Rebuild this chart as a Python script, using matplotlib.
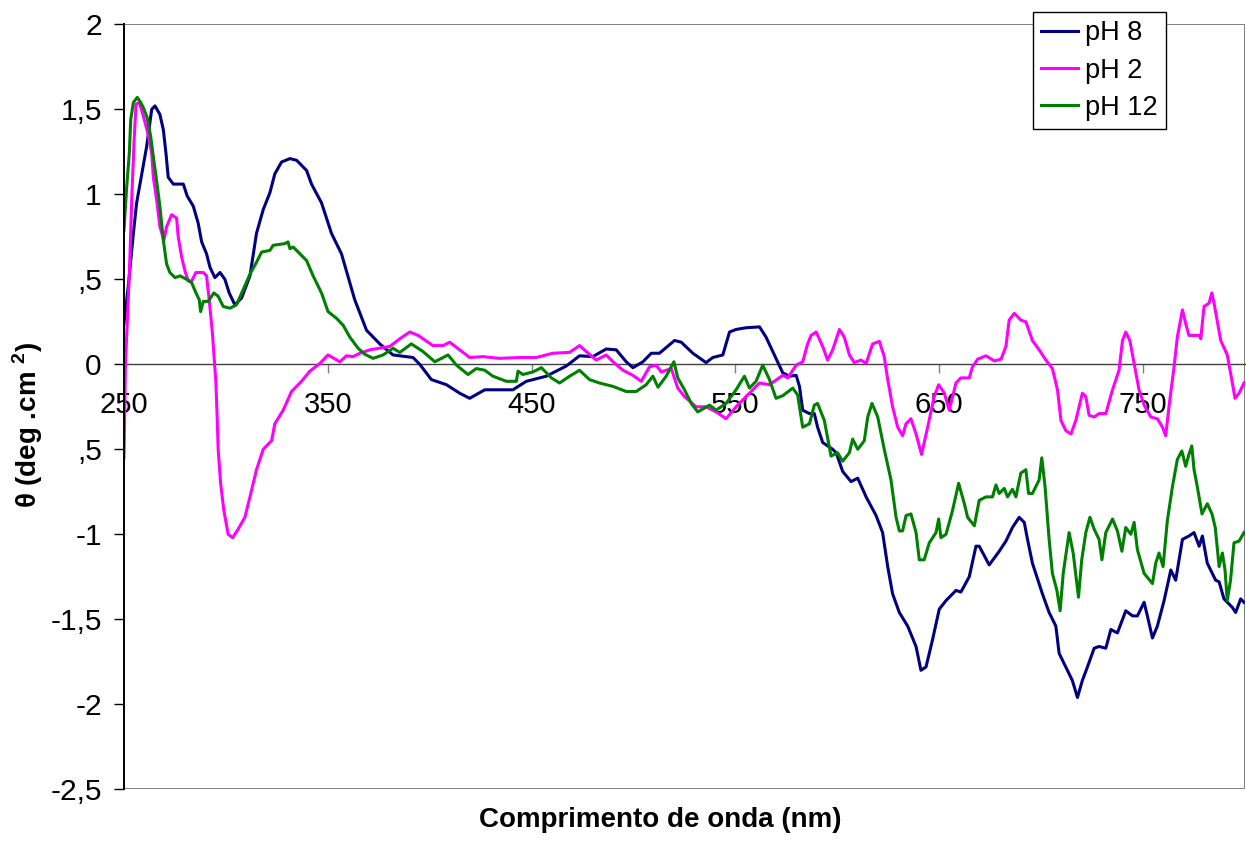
import matplotlib
matplotlib.use("Agg")
import matplotlib.pyplot as plt
from matplotlib.patches import Rectangle

plt.rcParams['font.family'] = ['Liberation Sans', 'DejaVu Sans']
plt.rcParams['mathtext.fontset'] = 'custom'
plt.rcParams['mathtext.rm'] = 'Liberation Sans'
plt.rcParams['mathtext.bf'] = 'Liberation Sans:bold'

# Circular dichroism spectra at three pH values
wl_ph8 = [250.0, 252.1, 254.6, 256.2, 258.7, 261.1, 263.6, 265.2, 267.6, 269.3, 270.6, 271.7,
          274.2, 279.1, 281.0, 284.0, 286.4, 288.1, 290.5, 292.2, 294.6, 297.1, 299.5, 301.6,
          304.4, 307.7, 311.8, 315.0, 318.3, 321.6, 324.0, 327.3, 331.4, 334.7, 339.6, 342.0,
          346.9, 351.8, 356.7, 363.2, 369.0, 375.5, 382.0, 391.8, 395.1, 400.8, 408.2, 414.7,
          419.6, 427.0, 432.7, 440.8, 447.4, 457.2, 467.0, 473.5, 480.0, 486.6, 491.5, 496.4,
          499.7, 504.6, 508.7, 512.7, 520.1, 523.4, 529.1, 535.6, 538.9, 543.8, 547.1, 550.3,
          555.2, 561.8, 565.0, 569.9, 573.2, 576.5, 579.8, 581.4, 583.0, 586.3, 588.7, 590.3,
          592.8, 597.7, 599.4, 602.6, 606.7, 610.0, 614.1, 619.0, 622.2, 624.7, 627.1, 630.4,
          634.5, 638.6, 641.0, 643.5, 646.7, 650.0, 653.3, 658.2, 660.6, 664.7, 668.0, 669.6,
          674.5, 679.4, 682.7, 685.9, 689.2, 691.7, 693.3, 695.7, 700.6, 703.9, 707.2, 708.8,
          712.9, 715.3, 717.8, 720.2, 722.7, 726.0, 728.4, 731.7, 734.2, 737.4, 741.5, 744.8,
          747.2, 750.5, 752.1, 754.6, 757.0, 760.3, 763.6, 766.0, 769.3, 772.5, 775.0, 777.5,
          779.1, 781.5, 785.6, 787.3, 789.7, 793.8, 795.4, 797.9, 799.5]
theta_ph8 = [0.24, 0.46, 0.77, 0.95, 1.12, 1.28, 1.50, 1.52, 1.47, 1.38, 1.24, 1.10,
             1.06, 1.06, 0.99, 0.93, 0.83, 0.72, 0.65, 0.57, 0.51, 0.54, 0.50, 0.42,
             0.35, 0.39, 0.52, 0.77, 0.91, 1.01, 1.12, 1.19, 1.21, 1.20, 1.14, 1.06,
             0.95, 0.77, 0.65, 0.38, 0.20, 0.12, 0.055, 0.04, 0.0, -0.09, -0.12, -0.17,
             -0.20, -0.15, -0.15, -0.15, -0.10, -0.07, -0.01, 0.05, 0.045, 0.09, 0.085, 0.015,
             -0.02, 0.015, 0.065, 0.065, 0.14, 0.13, 0.065, 0.01, 0.04, 0.055, 0.19, 0.205,
             0.215, 0.22, 0.16, 0.035, -0.05, -0.07, -0.065, -0.13, -0.27, -0.29, -0.29, -0.37,
             -0.46, -0.50, -0.52, -0.63, -0.69, -0.67, -0.78, -0.89, -0.99, -1.19, -1.35, -1.46,
             -1.54, -1.66, -1.80, -1.78, -1.62, -1.44, -1.39, -1.33, -1.34, -1.25, -1.07, -1.07,
             -1.18, -1.10, -1.04, -0.96, -0.90, -0.93, -1.03, -1.17, -1.35, -1.46, -1.54, -1.70,
             -1.80, -1.86, -1.96, -1.86, -1.78, -1.67, -1.66, -1.67, -1.56, -1.58, -1.45, -1.48,
             -1.48, -1.40, -1.48, -1.61, -1.54, -1.39, -1.21, -1.27, -1.03, -1.01, -0.99, -1.07,
             -1.01, -1.17, -1.27, -1.28, -1.38, -1.43, -1.46, -1.38, -1.40]

wl_ph2 = [250.0, 250.7, 251.3, 252.6, 253.8, 254.9, 255.9, 257.5, 259.5, 261.9, 263.6, 264.4,
          266.0, 267.6, 269.6, 270.9, 273.4, 275.8, 276.6, 278.3, 279.9, 281.5, 283.2, 285.3,
          288.9, 290.5, 291.8, 293.4, 295.1, 295.7, 296.2, 297.4, 299.0, 301.1, 303.3, 306.0,
          309.3, 311.8, 315.0, 318.3, 322.4, 324.0, 328.1, 332.2, 337.1, 341.2, 346.1, 350.1,
          355.9, 359.2, 362.4, 365.7, 370.6, 380.4, 385.3, 390.2, 394.3, 401.6, 406.5, 409.8,
          414.7, 419.6, 426.1, 434.3, 444.1, 452.3, 460.4, 468.6, 473.5, 476.8, 481.7, 486.6,
          489.9, 494.8, 499.7, 503.8, 507.8, 511.1, 513.6, 518.5, 521.7, 525.0, 530.7, 535.6,
          540.5, 545.4, 550.3, 555.2, 561.8, 566.7, 573.2, 575.6, 579.8, 583.0, 585.4, 587.1,
          589.6, 592.8, 595.2, 597.7, 601.0, 603.4, 605.9, 608.3, 611.6, 614.1, 617.3, 620.6,
          623.0, 624.7, 627.1, 629.6, 632.0, 633.7, 636.1, 638.6, 641.3, 644.3, 647.5, 649.7,
          652.5, 654.9, 658.2, 660.6, 664.7, 666.3, 668.8, 672.9, 677.0, 680.3, 682.7, 684.3,
          686.8, 690.0, 692.5, 695.7, 699.0, 702.3, 705.5, 708.0, 709.7, 712.1, 714.6, 717.0,
          720.2, 721.9, 723.5, 726.0, 728.4, 731.7, 735.0, 738.2, 739.9, 741.5, 743.5, 745.6,
          748.0, 750.5, 753.8, 757.0, 759.5, 761.1, 762.7, 765.2, 766.8, 769.3, 770.9, 772.5,
          777.5, 778.3, 779.9, 782.4, 783.7, 784.8, 788.1, 791.3, 793.8, 795.1, 797.1, 799.5]
theta_ph2 = [-0.55, 0.0, 0.16, 0.52, 0.97, 1.30, 1.53, 1.54, 1.46, 1.35, 1.24, 1.10,
             0.97, 0.81, 0.73, 0.81, 0.88, 0.86, 0.75, 0.63, 0.55, 0.49, 0.49, 0.54,
             0.54, 0.52, 0.38, 0.18, -0.11, -0.31, -0.50, -0.70, -0.86, -1.00, -1.02, -0.97,
             -0.90, -0.78, -0.62, -0.50, -0.45, -0.35, -0.27, -0.16, -0.10, -0.04, 0.005, 0.055,
             0.015, 0.05, 0.045, 0.065, 0.085, 0.105, 0.15, 0.19, 0.17, 0.11, 0.11, 0.13,
             0.085, 0.04, 0.045, 0.035, 0.04, 0.04, 0.065, 0.07, 0.11, 0.075, 0.025, 0.055,
             0.015, -0.035, -0.065, -0.10, -0.015, -0.005, -0.045, -0.025, -0.14, -0.19, -0.25, -0.25,
             -0.28, -0.32, -0.25, -0.19, -0.11, -0.12, -0.065, -0.08, -0.005, 0.015, 0.12, 0.17,
             0.19, 0.105, 0.025, 0.085, 0.205, 0.16, 0.055, 0.01, 0.025, 0.005, 0.12, 0.135,
             0.045, -0.09, -0.25, -0.37, -0.42, -0.35, -0.32, -0.41, -0.53, -0.37, -0.19, -0.12,
             -0.17, -0.27, -0.11, -0.08, -0.08, -0.015, 0.03, 0.05, 0.02, 0.03, 0.105, 0.26,
             0.30, 0.26, 0.25, 0.14, 0.085, 0.025, -0.025, -0.15, -0.33, -0.39, -0.41, -0.33,
             -0.17, -0.19, -0.30, -0.31, -0.29, -0.29, -0.15, -0.035, 0.14, 0.19, 0.14, 0.005,
             -0.15, -0.24, -0.31, -0.32, -0.37, -0.42, -0.25, -0.015, 0.16, 0.32, 0.24, 0.17,
             0.17, 0.15, 0.34, 0.36, 0.42, 0.36, 0.14, 0.055, -0.11, -0.20, -0.17, -0.11]

wl_ph12 = [250.0, 251.3, 252.6, 253.3, 254.6, 256.5, 258.2, 259.5, 261.4, 263.1, 264.4, 266.0,
           267.6, 269.3, 270.9, 272.5, 275.0, 277.5, 280.7, 283.2, 285.3, 286.9, 287.6, 288.9,
           291.3, 294.1, 296.2, 298.7, 302.0, 305.2, 308.5, 311.8, 315.0, 317.5, 321.6, 323.2,
           328.9, 330.5, 331.4, 333.0, 336.3, 339.6, 342.8, 346.9, 350.1, 354.3, 357.5, 360.8,
           364.9, 368.0, 372.2, 377.1, 382.0, 385.3, 391.0, 396.7, 402.5, 409.0, 413.1, 418.8,
           422.9, 427.0, 431.0, 437.6, 442.5, 443.3, 445.7, 450.6, 454.8, 459.7, 463.7, 468.6,
           473.5, 478.4, 483.3, 489.9, 496.4, 501.3, 506.2, 509.5, 512.0, 516.0, 519.8, 521.7,
           525.0, 528.3, 531.5, 537.3, 540.5, 545.4, 550.3, 554.4, 556.9, 560.1, 563.4, 566.7,
           569.9, 573.2, 578.1, 580.5, 583.0, 586.3, 588.7, 590.3, 593.6, 596.9, 600.1, 602.6,
           605.9, 607.5, 610.0, 613.2, 614.9, 617.0, 619.8, 623.0, 626.3, 628.8, 630.4, 632.0,
           633.7, 636.1, 638.6, 640.2, 642.6, 645.1, 648.4, 649.7, 650.8, 653.3, 656.5, 659.5,
           662.3, 663.9, 667.2, 669.6, 672.9, 676.1, 677.8, 679.4, 681.9, 683.5, 685.9, 687.6,
           690.0, 692.5, 693.8, 695.7, 699.0, 700.3, 701.9, 703.9, 705.5, 707.7, 709.3, 710.8,
           713.7, 715.7, 718.3, 719.9, 721.9, 723.9, 726.0, 728.4, 729.8, 731.7, 735.0, 737.4,
           739.6, 741.5, 744.0, 745.6, 747.2, 750.5, 754.6, 756.2, 757.8, 759.8, 761.9, 764.4,
           766.8, 769.0, 770.9, 772.5, 773.9, 775.0, 776.6, 778.9, 781.5, 783.8, 785.4, 787.3,
           788.9, 790.2, 791.3, 792.9, 794.6, 797.1, 799.5]
theta_ph12 = [0.79, 1.04, 1.24, 1.44, 1.54, 1.57, 1.54, 1.51, 1.45, 1.34, 1.22, 1.08,
              0.93, 0.73, 0.59, 0.54, 0.51, 0.52, 0.50, 0.48, 0.42, 0.38, 0.31, 0.37,
              0.37, 0.42, 0.40, 0.34, 0.33, 0.35, 0.44, 0.53, 0.60, 0.66, 0.67, 0.70,
              0.71, 0.72, 0.68, 0.69, 0.65, 0.61, 0.52, 0.42, 0.31, 0.27, 0.23, 0.16,
              0.094, 0.06, 0.035, 0.055, 0.094, 0.07, 0.12, 0.075, 0.015, 0.055, -0.005, -0.06,
              -0.025, -0.035, -0.07, -0.10, -0.10, -0.04, -0.06, -0.045, -0.02, -0.08, -0.11, -0.07,
              -0.035, -0.09, -0.11, -0.13, -0.16, -0.16, -0.12, -0.07, -0.135, -0.07, 0.015, -0.08,
              -0.15, -0.23, -0.28, -0.24, -0.27, -0.23, -0.15, -0.07, -0.14, -0.10, -0.005, -0.09,
              -0.20, -0.185, -0.14, -0.18, -0.37, -0.35, -0.24, -0.23, -0.33, -0.54, -0.52, -0.57,
              -0.52, -0.44, -0.50, -0.45, -0.31, -0.23, -0.31, -0.50, -0.68, -0.90, -0.98, -0.98,
              -0.89, -0.88, -0.99, -1.15, -1.15, -1.05, -0.99, -0.91, -1.02, -1.00, -0.86, -0.70,
              -0.82, -0.90, -0.95, -0.80, -0.78, -0.78, -0.71, -0.76, -0.73, -0.78, -0.735, -0.78,
              -0.64, -0.62, -0.76, -0.76, -0.68, -0.55, -0.72, -1.03, -1.23, -1.33, -1.45, -1.23,
              -0.99, -1.11, -1.37, -1.15, -0.99, -0.90, -0.97, -1.03, -1.15, -0.99, -0.91, -0.98,
              -1.10, -0.96, -1.00, -0.93, -1.09, -1.23, -1.29, -1.17, -1.11, -1.19, -0.92, -0.72,
              -0.56, -0.51, -0.60, -0.53, -0.48, -0.62, -0.72, -0.88, -0.82, -0.88, -0.96, -1.19,
              -1.11, -1.21, -1.39, -1.27, -1.05, -1.04, -0.99]

series_labels = ["pH 8", "pH 2", "pH 12"]
series_colors = ["#000080", "#FF00FF", "#008000"]

x_ticks = [250, 350, 450, 550, 650, 750]
y_ticks = [2, 1.5, 1, 0.5, 0, -0.5, -1, -1.5, -2, -2.5]
y_tick_labels = ["2", "1,5", "1", ",5", "0", ",5", "-1", "-1,5", "-2", "-2,5"]

fig = plt.figure(figsize=(12.46, 8.44), dpi=100)
ax = fig.add_axes([124 / 1246, (844 - 789.3) / 844, 1121 / 1246, 765 / 844])

for wl, th, lab, col in zip([wl_ph8, wl_ph2, wl_ph12], [theta_ph8, theta_ph2, theta_ph12],
                            series_labels, series_colors):
    ax.plot(wl, th, color=col, lw=2.2, label=lab, solid_joinstyle='round', zorder=3)

ax.set_xlim(250, 800)
ax.set_ylim(-2.5, 2)

# plot-area frame
ax.add_patch(Rectangle((0, 0), 1, 1, transform=ax.transAxes, fill=False,
                       edgecolor="#808080", lw=1.4, zorder=1))
for side in ("top", "right"):
    ax.spines[side].set_visible(False)
ax.spines["left"].set_color("black")
ax.spines["left"].set_linewidth(1.4)
ax.spines["left"].set_zorder(4)
ax.spines["bottom"].set_position(("data", 0))
ax.spines["bottom"].set_color("#404040")
ax.spines["bottom"].set_linewidth(1.0)

ax.set_xticks(x_ticks)
ax.set_xticklabels([str(v) for v in x_ticks])
ax.set_yticks(y_ticks)
ax.set_yticklabels(y_tick_labels)
ax.tick_params(axis="x", direction="out", length=6.5, width=1.0, color="#808080",
               labelsize=21, pad=13)
ax.tick_params(axis="y", direction="out", length=7, width=1.0, color="black",
               labelsize=21.5, pad=9)

fig.text(660 / 1246, 1 - 820 / 844, "Comprimento de onda (nm)", fontsize=20,
         fontweight="bold", ha="center", va="center")
fig.text(28 / 1246, 1 - 425 / 844, r"θ (deg .cm $^{\mathbf{2}}$)", fontsize=20,
         fontweight="bold", ha="center", va="center", rotation=90)

leg = ax.legend(loc="upper left", bbox_to_anchor=(1033 / 1246, 1 - 12 / 844),
                bbox_transform=fig.transFigure, borderaxespad=0, fancybox=False,
                edgecolor="black", framealpha=1, fontsize=19.5, handlelength=1.37,
                handletextpad=0.26, labelspacing=0.42, borderpad=0.3)
leg.get_frame().set_linewidth(1.0)
leg.set_zorder(10)

fig.savefig("out.png", dpi=100, facecolor="white")
